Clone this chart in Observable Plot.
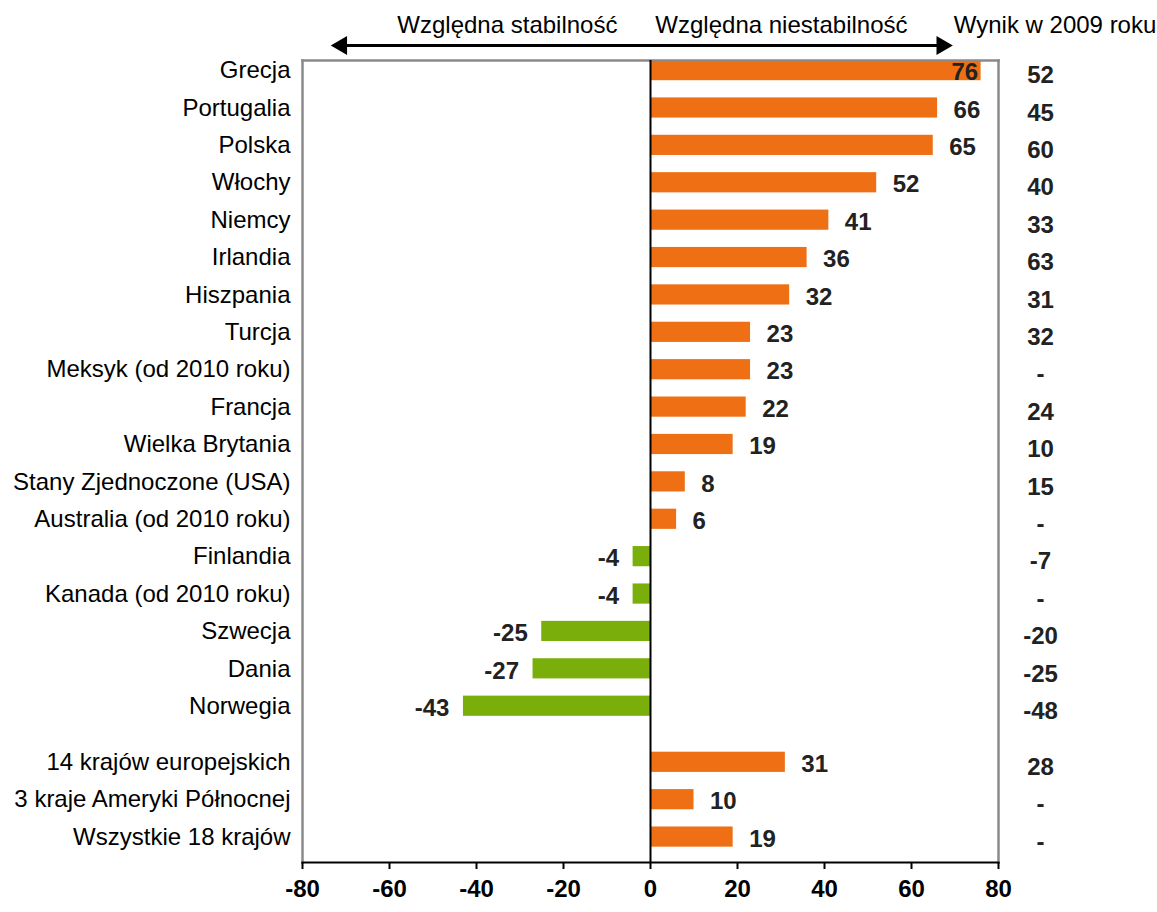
<!DOCTYPE html>
<html>
<head>
<meta charset="utf-8">
<script src="https://cdn.jsdelivr.net/npm/d3@7"></script>
<script src="https://cdn.jsdelivr.net/npm/@observablehq/plot@0.6"></script>
<style>
  html, body { margin: 0; padding: 0; background: #fff; }
  #chart svg { display: block; }
</style>
</head>
<body>
<div id="chart"></div>
<script>
const categories = ["Grecja","Portugalia","Polska","Włochy","Niemcy","Irlandia","Hiszpania","Turcja","Meksyk (od 2010 roku)","Francja","Wielka Brytania","Stany Zjednoczone (USA)","Australia (od 2010 roku)","Finlandia","Kanada (od 2010 roku)","Szwecja","Dania","Norwegia","14 krajów europejskich","3 kraje Ameryki Północnej","Wszystkie 18 krajów"];
const groups = ["kraj","kraj","kraj","kraj","kraj","kraj","kraj","kraj","kraj","kraj","kraj","kraj","kraj","kraj","kraj","kraj","kraj","kraj","grupa","grupa","grupa"];
const values2010 = [76,66,65,52,41,36,32,23,23,22,19,8,6,-4,-4,-25,-27,-43,31,10,19];
const score2009 = ["52","45","60","40","33","63","31","32","-","24","10","15","-","-7","-","-20","-25","-48","28","-","-"];
const xTicks = [-80,-60,-40,-20,0,20,40,60,80];
const headerTexts = ["Względna stabilność","Względna niestabilność","Wynik w 2009 roku"];
const headerX = [-32.9, 30.1, 93];
const arrowX = [-71, 67];

const FONT = "Liberation Sans, Arial, sans-serif";
const ORANGE = "#EE6F14";
const GREEN = "#79AE0B";

// row position: aggregates are separated by an extra half row
const data = categories.map((name, i) => ({
  name,
  value: values2010[i],
  prev: score2009[i],
  pos: i + (groups[i] === "grupa" ? 0.5 : 0)
}));
const half = 0.27;
const headerY = -1.2;
const arrowY = -0.67;
const fitsOutside = d => d.value >= 0 && d.value <= 70;
const overflow = d => d.value > 70;
const negative = d => d.value < 0;

const chart = Plot.plot({
  width: 1157,
  height: 912,
  marginTop: 60,
  marginBottom: 50,
  marginLeft: 302,
  marginRight: 159,
  style: { fontFamily: FONT, fontSize: "24px", background: "#fff", color: "#000" },
  x: { domain: [-80, 80], axis: null },
  y: { type: "linear", domain: [-0.27, 21.18], reverse: true, axis: null },
  marks: [
    Plot.rectX(data, {
      x1: 0, x2: "value",
      y1: d => d.pos - half, y2: d => d.pos + half,
      fill: d => d.value >= 0 ? ORANGE : GREEN
    }),
    Plot.frame({ anchor: "left", stroke: "#8a8a8a", strokeWidth: 2.5 }),
    Plot.frame({ anchor: "top", stroke: "#8a8a8a", strokeWidth: 2.5 }),
    Plot.frame({ anchor: "right", stroke: "#8a8a8a", strokeWidth: 2.5 }),
    Plot.frame({ anchor: "bottom", stroke: "#000", strokeWidth: 2 }),
    Plot.ruleX([0], { stroke: "#000", strokeWidth: 2 }),
    Plot.axisX({
      ticks: xTicks, tickSize: 7, tickPadding: 10, tickFormat: d => String(d),
      label: null, fontSize: 24, fontWeight: "bold", stroke: "#000", strokeWidth: 2
    }),
    // category labels
    Plot.text(data, {
      y: "pos", text: "name", frameAnchor: "left", textAnchor: "end",
      dx: -12, fontSize: 24, fill: "#000"
    }),
    // value labels
    Plot.text(data.filter(fitsOutside), {
      x: "value", y: "pos", text: d => String(d.value),
      textAnchor: "start", dx: 16, dy: 2,
      fontSize: 24, fontWeight: "bold", fill: "#222"
    }),
    Plot.text(data.filter(overflow), {
      x: "value", y: "pos", text: d => String(d.value),
      textAnchor: "end", dx: -3, dy: 2,
      fontSize: 24, fontWeight: "bold", fill: "#222"
    }),
    Plot.text(data.filter(negative), {
      x: "value", y: "pos", text: d => String(d.value),
      textAnchor: "end", dx: -14, dy: 2,
      fontSize: 24, fontWeight: "bold", fill: "#222"
    }),
    // 2009 column
    Plot.text(data, {
      y: "pos", text: "prev", frameAnchor: "right", textAnchor: "middle",
      dx: 42, dy: 5, fontSize: 24, fontWeight: "bold", fill: "#222"
    }),
    // header arrow
    Plot.link([arrowX], {
      x1: d => d[0], x2: d => d[1], y1: arrowY, y2: arrowY,
      stroke: "#000", strokeWidth: 3
    }),
    Plot.dot(arrowX, {
      x: d => d, y: arrowY, symbol: "triangle", r: 7, fill: "#000",
      rotate: d => d < 0 ? -90 : 90
    }),
    Plot.text(headerTexts, {
      x: (d, i) => headerX[i], y: headerY, text: d => d,
      fontSize: 24, fill: "#000"
    })
  ]
});
document.getElementById("chart").appendChild(chart);
</script>
</body>
</html>
